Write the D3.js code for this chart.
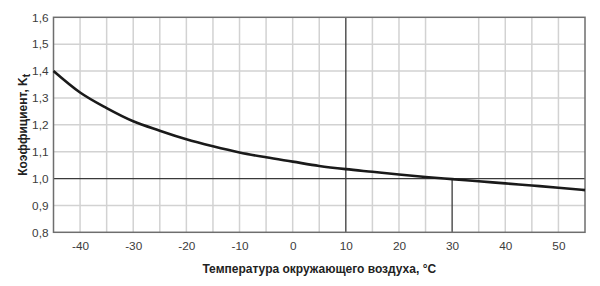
<!DOCTYPE html>
<html><head><meta charset="utf-8">
<script src="https://cdn.jsdelivr.net/npm/d3@7"></script>
<style>body{margin:0;background:#fff}svg{display:block}</style>
</head><body><svg id="c" width="600" height="286"></svg>
<script>
const temps = [-45,-40,-35,-30,-25,-20,-15,-10,-5,0,5,10,15,20,25,30,35,40,45,50,55];
const coef  = [1.400,1.320,1.262,1.213,1.178,1.146,1.120,1.097,1.079,1.063,1.047,1.035,1.025,1.015,1.006,0.998,0.990,0.982,0.974,0.966,0.957];
const xTicks = [-40,-30,-20,-10,0,10,20,30,40,50];
const yTicks = [0.8,0.9,1.0,1.1,1.2,1.3,1.4,1.5,1.6];
const xGrid = [-40,-35,-30,-25,-20,-15,-10,-5,0,5,15,20,25,35,40,45,50];
const yGrid = [0.9,1.1,1.2,1.3,1.4,1.5];
const xTitle = "Температура окружающего воздуха, °C";
const yTitle = "Коэффициент, K";
const ySub = "t";

const svg = d3.select("#c");
const L=53.5, R=585, T=17.3, B=232.3;
const x = d3.scaleLinear().domain([-45,55]).range([L,R]);
const y = d3.scaleLinear().domain([0.8,1.6]).range([B,T]);
const font = "'Liberation Sans', Arial, sans-serif";

// grid
svg.append("g").selectAll("line").data(xGrid).join("line")
  .attr("x1",d=>x(d)).attr("x2",d=>x(d)).attr("y1",T).attr("y2",B)
  .attr("stroke","#d2d2d2").attr("stroke-width",1.5);
svg.append("g").selectAll("line").data(yGrid).join("line")
  .attr("x1",L).attr("x2",R).attr("y1",d=>y(d)).attr("y2",d=>y(d))
  .attr("stroke","#d2d2d2").attr("stroke-width",1.5);

// reference lines
svg.append("line").attr("x1",L).attr("x2",R).attr("y1",y(1.0)).attr("y2",y(1.0))
  .attr("stroke","#3a3a3a").attr("stroke-width",1.3);
svg.append("line").attr("x1",x(10)).attr("x2",x(10)).attr("y1",T).attr("y2",B)
  .attr("stroke","#3a3a3a").attr("stroke-width",1.3);
svg.append("line").attr("x1",x(30)).attr("x2",x(30)).attr("y1",y(1.0)).attr("y2",B)
  .attr("stroke","#3a3a3a").attr("stroke-width",1.3);

// frame
svg.append("rect").attr("x",L).attr("y",T).attr("width",R-L).attr("height",B-T)
  .attr("fill","none").attr("stroke","#6e6e6e").attr("stroke-width",1.5);

// curve
const data = temps.map((t,i)=>({t, k:coef[i]}));
svg.append("path").datum(data)
  .attr("d", d3.line().x(d=>x(d.t)).y(d=>y(d.k)).curve(d3.curveMonotoneX))
  .attr("fill","none").attr("stroke","#1a1a1a").attr("stroke-width",2.6);

// axes
const fmt = d=>d3.format(".1f")(d).replace(".",",");
const xa = svg.append("g").attr("transform",`translate(0,${B})`)
  .call(d3.axisBottom(x).tickValues(xTicks).tickSize(0).tickPadding(9).tickFormat(d=>d<0?"-"+Math.abs(d):d));
const ya = svg.append("g").attr("transform",`translate(${L},0)`)
  .call(d3.axisLeft(y).tickValues(yTicks).tickSize(0).tickPadding(5).tickFormat(fmt));
[xa,ya].forEach(a=>{a.select(".domain").remove();
  a.selectAll("text").attr("font-family",font).attr("font-size",11.8).attr("fill","#3c3c3c");});

svg.append("text").attr("x",(L+R)/2).attr("y",273).attr("text-anchor","middle")
  .attr("font-family",font).attr("font-weight","bold").attr("font-size",12).attr("fill","#222")
  .text(xTitle);
const yt = svg.append("text").attr("transform",`translate(26.5,${(T+B)/2}) rotate(-90)`)
  .attr("text-anchor","middle").attr("font-family",font).attr("font-weight","bold")
  .attr("font-size",12).attr("fill","#222");
yt.append("tspan").text(yTitle);
yt.append("tspan").attr("dy",3).attr("font-size",10).text(ySub);
</script></body></html>
